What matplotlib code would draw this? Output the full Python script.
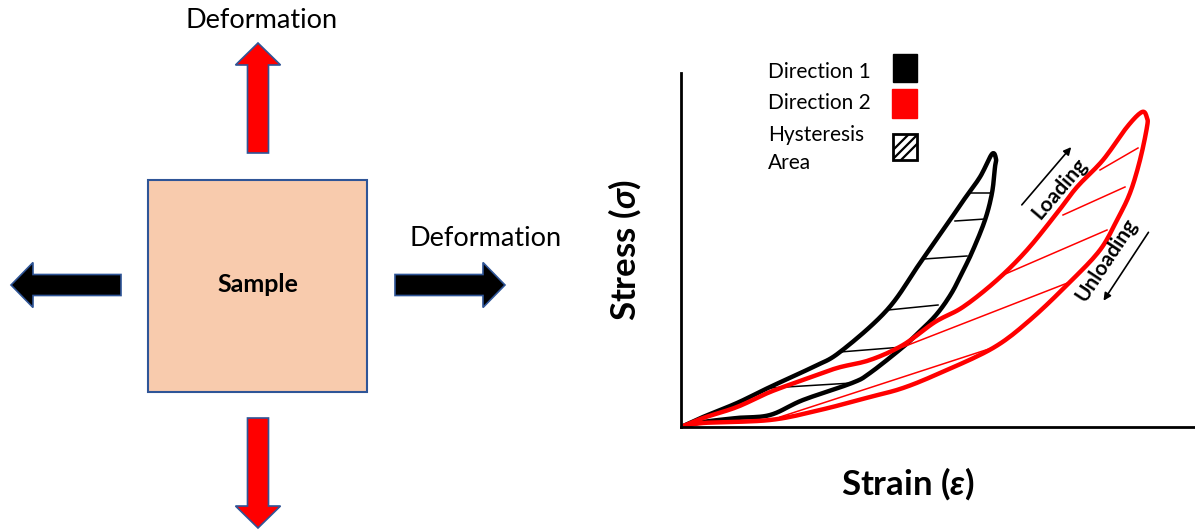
import numpy as np
import matplotlib
matplotlib.use("Agg")
import matplotlib.pyplot as plt
from matplotlib.patches import Rectangle, FancyArrow

plt.rcParams['font.family'] = ['Lato', 'DejaVu Sans']
plt.rcParams['mathtext.fontset'] = 'custom'
plt.rcParams['mathtext.it'] = 'Lato:italic:bold'
plt.rcParams['mathtext.rm'] = 'Lato:bold'

# stress-strain loops (schematic units, origin at axes corner)
dir1_load_x = [0, 22, 56, 89, 132, 159, 206, 239, 269, 282, 299, 311]
dir1_load_y = [0, 10, 24, 40, 60, 75, 117, 164, 207, 226, 250, 273]
dir1_unload_x = [315, 314, 311, 304, 292, 282, 270, 255, 236, 222, 189, 171, 122, 89, 56, 22, 0]
dir1_unload_y = [268, 260, 234, 207, 177, 156, 133, 112, 93, 80, 54, 44, 27, 12, 9, 5, 0]

dir2_load_x = [0, 22, 56, 89, 122, 156, 189, 222, 254, 282, 316, 346, 376, 396, 422, 446, 461]
dir2_load_y = [0, 9, 20, 35, 47, 59, 67, 82, 105, 120, 147, 177, 214, 240, 267, 300, 315]
dir2_unload_x = [466, 466, 459, 449, 436, 419, 389, 349, 312, 259, 222, 189, 139, 89, 22, 0]
dir2_unload_y = [309, 300, 267, 234, 207, 177, 145, 107, 79, 54, 39, 30, 17, 7, 4, 0]

# hysteresis hatch segments: (x0, y0, x1, y1)
dir1_hatch = [(289, 234, 311, 234), (274, 206, 304, 208), (243, 168, 286, 171),
              (207, 117, 257, 122), (159, 75, 222, 80), (89, 39, 171, 44)]
dir2_hatch = [(419, 257, 457, 279), (382, 212, 444, 240), (322, 152, 426, 197),
              (222, 80, 389, 145), (99, 10, 314, 80)]

legend_labels = ['Direction 1', 'Direction 2', 'Hysteresis\nArea']


def smooth(x, y, n=10):
    p = np.column_stack([x, y]).astype(float)
    p = np.vstack([p[0], p, p[-1]])
    out = []
    t = np.linspace(0, 1, n, endpoint=False)[:, None]
    for i in range(1, len(p) - 2):
        p0, p1, p2, p3 = p[i - 1], p[i], p[i + 1], p[i + 2]
        out.append(0.5 * ((2 * p1) + (-p0 + p2) * t + (2 * p0 - 5 * p1 + 4 * p2 - p3) * t ** 2
                          + (-p0 + 3 * p1 - 3 * p2 + p3) * t ** 3))
    out.append(p[-2][None])
    out = np.vstack(out)
    return out[:, 0], out[:, 1]


fig = plt.figure(figsize=(11.95, 5.31), dpi=100)

# full-figure canvas in pixel units for the sample sketch
base = fig.add_axes([0, 0, 1, 1])
base.set_xlim(0, 1195)
base.set_ylim(531, 0)
base.axis('off')

edge = '#2F5597'
base.add_patch(Rectangle((148, 180), 219, 212, fc='#F8CBAD', ec=edge, lw=1.5))
base.text(258, 284, 'Sample', ha='center', va='center', fontsize=18, fontweight='bold')

arrows = [((258, 153), (0, -110), 'red'), ((258, 418), (0, 110), 'red'),
          ((121, 285), (-110, 0), 'black'), ((395, 285), (110, 0), 'black')]
for (x0, y0), (dx, dy), c in arrows:
    base.add_patch(FancyArrow(x0, y0, dx, dy, width=21, head_width=45, head_length=22,
                              length_includes_head=True, fc=c, ec=edge, lw=1.2))

base.text(262, 20, 'Deformation', ha='center', va='center', fontsize=19.5)
base.text(486, 238, 'Deformation', ha='center', va='center', fontsize=19.5)

# legend
legend_y = [72, 103, 149]
for lab, ly in zip(legend_labels, legend_y):
    base.text(768, ly, lab, ha='left', va='center', fontsize=15, linespacing=1.55)
base.add_patch(Rectangle((893, 54), 24, 28, fc='black', ec='black'))
base.add_patch(Rectangle((892, 89), 25, 29, fc='red', ec='red'))
hbox = Rectangle((893, 134), 24, 26, fc='white', ec='black', lw=2, zorder=2)
base.add_patch(hbox)
for c in [-9, 0, 9]:
    ln, = base.plot([905 + c - 16, 905 + c + 16], [147 + 16, 147 - 16],
                    color='black', lw=1.6, zorder=3)
    ln.set_clip_path(hbox)

base.text(625, 250, r'Stress ($\sigma$)', ha='center', va='center', rotation=90,
          fontsize=25, fontweight='bold')
base.text(908, 484, r'Strain ($\varepsilon$)', ha='center', va='center',
          fontsize=25, fontweight='bold')

# stress-strain chart
ax = fig.add_axes([681 / 1195, (531 - 427) / 531, 514 / 1195, 354 / 531])
ax.patch.set_alpha(0)
ax.set_xlim(0, 514)
ax.set_ylim(0, 354)
ax.set_xticks([])
ax.set_yticks([])
for s in ['top', 'right']:
    ax.spines[s].set_visible(False)
for s in ['left', 'bottom']:
    ax.spines[s].set_linewidth(2)

for x0, y0, x1, y1 in dir1_hatch:
    ax.plot([x0, x1], [y0, y1], color='black', lw=1.1)
bx, by = smooth(dir1_load_x + dir1_unload_x, dir1_load_y + dir1_unload_y)
ax.plot(bx, by, color='black', lw=3.2, solid_joinstyle='round', solid_capstyle='round')

for x0, y0, x1, y1 in dir2_hatch:
    ax.plot([x0, x1], [y0, y1], color='red', lw=1.1)
rx, ry = smooth(dir2_load_x + dir2_unload_x, dir2_load_y + dir2_unload_y)
ax.plot(rx, ry, color='red', lw=3.2, solid_joinstyle='round', solid_capstyle='round')

ax.annotate('', xy=(392, 282), xytext=(339, 220),
            arrowprops=dict(arrowstyle='-|>', color='black', lw=1.2, mutation_scale=11))
ax.text(379, 238, 'Loading', rotation=49.5, ha='center', va='center',
        fontsize=15, fontweight='bold', rotation_mode='anchor')
ax.annotate('', xy=(421, 124), xytext=(469, 197),
            arrowprops=dict(arrowstyle='-|>', color='black', lw=1.2, mutation_scale=11))
ax.text(425, 167, 'Unloading', rotation=56.5, ha='center', va='center',
        fontsize=15, fontweight='bold', rotation_mode='anchor')

fig.savefig('out.png', dpi=100)
